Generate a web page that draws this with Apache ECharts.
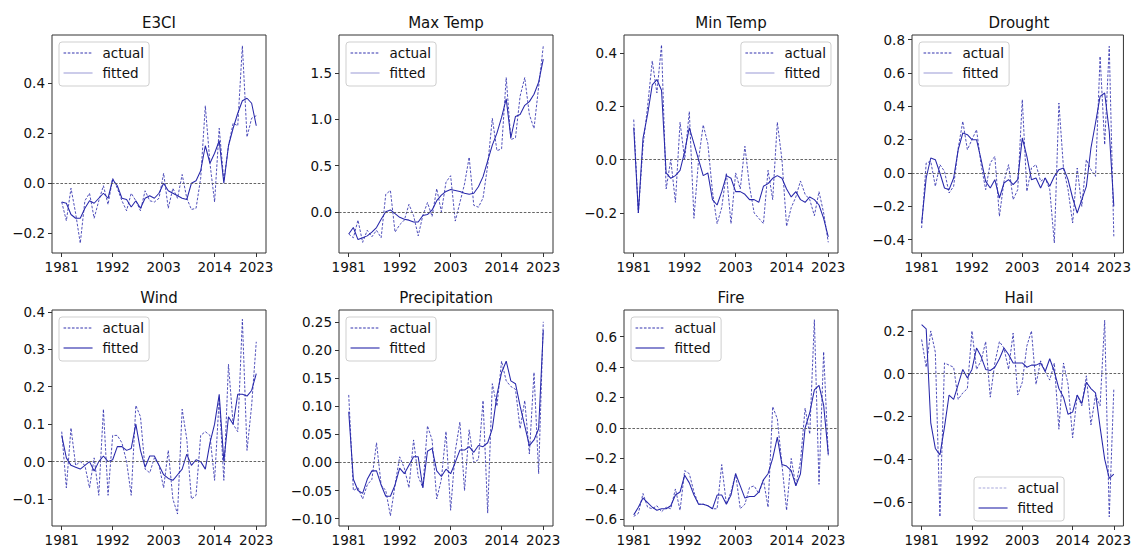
<!DOCTYPE html>
<html><head><meta charset="utf-8">
<script src="https://cdn.jsdelivr.net/npm/echarts@6/dist/echarts.min.js"></script>
<style>html,body{margin:0;padding:0;background:#fff}#c{width:1134px;height:547px}</style>
</head><body><div id="c"></div>
<script>
const years = [1981,1982,1983,1984,1985,1986,1987,1988,1989,1990,1991,1992,1993,1994,1995,1996,1997,1998,1999,2000,2001,2002,2003,2004,2005,2006,2007,2008,2009,2010,2011,2012,2013,2014,2015,2016,2017,2018,2019,2020,2021,2022,2023];
const xTicks = [1981,1992,2003,2014,2023];
const xLim = [1978.9, 2025.1];
const titles = ['E3CI','Max Temp','Min Temp','Drought','Wind','Precipitation','Fire','Hail'];

const e3ciActual = [-0.075,-0.15,-0.02,-0.12,-0.24,-0.07,-0.04,-0.14,-0.07,-0.01,-0.085,0.02,-0.02,-0.07,-0.11,-0.04,-0.07,-0.11,-0.03,-0.07,-0.075,-0.06,0.04,-0.10,-0.02,-0.06,0.035,-0.06,-0.105,-0.10,0.02,0.31,0.08,-0.075,0.22,0.01,0.15,0.24,0.23,0.55,0.185,0.26,0.27];
const e3ciFitted = [-0.075,-0.08,-0.125,-0.14,-0.14,-0.10,-0.07,-0.08,-0.06,-0.04,-0.06,0.015,-0.01,-0.06,-0.065,-0.095,-0.07,-0.10,-0.06,-0.05,-0.06,-0.04,0.0,-0.03,-0.04,-0.05,-0.06,-0.065,0.0,0.01,0.05,0.15,0.08,0.12,0.17,0.0,0.15,0.22,0.28,0.33,0.34,0.32,0.23];

const maxTempActual = [-0.24,-0.28,-0.09,-0.33,-0.2,-0.27,-0.2,-0.28,0.19,0.23,-0.22,-0.14,-0.09,0.08,-0.04,-0.26,-0.04,0.1,-0.05,0.25,0.0,0.32,0.39,-0.1,0.1,0.3,0.59,0.07,0.05,0.15,0.5,1.01,0.66,0.68,1.45,0.78,0.8,1.25,1.45,1.05,0.9,1.35,1.79];
const maxTempFitted = [-0.24,-0.17,-0.3,-0.28,-0.26,-0.22,-0.17,-0.08,0.0,0.02,-0.02,-0.06,-0.08,-0.09,-0.11,-0.11,-0.04,-0.03,0.02,0.12,0.18,0.22,0.24,0.23,0.22,0.2,0.19,0.2,0.27,0.38,0.55,0.72,0.85,1.02,1.22,0.8,1.03,1.05,1.15,1.19,1.27,1.4,1.65];

const minTempActual = [0.15,-0.2,0.05,0.2,0.37,0.25,0.43,-0.11,0.0,-0.16,0.14,0.0,0.18,-0.22,0.0,0.13,0.06,-0.12,-0.24,-0.18,-0.05,-0.24,-0.05,-0.11,0.05,-0.1,-0.2,-0.22,-0.24,-0.04,-0.15,0.14,0.0,-0.25,-0.18,-0.14,-0.08,-0.13,-0.15,-0.21,-0.12,-0.2,-0.31];
const minTempFitted = [0.12,-0.2,0.08,0.17,0.28,0.3,0.26,-0.05,-0.07,-0.06,-0.04,0.03,0.12,0.06,0.0,-0.06,-0.05,-0.15,-0.17,-0.12,-0.06,-0.07,-0.12,-0.12,-0.13,-0.15,-0.15,-0.16,-0.1,-0.09,-0.07,-0.06,-0.07,-0.11,-0.14,-0.12,-0.15,-0.16,-0.14,-0.15,-0.17,-0.22,-0.29];

const droughtActual = [-0.33,0.06,0.07,-0.08,0.05,0.01,-0.12,-0.08,0.15,0.31,0.14,0.2,0.26,0.05,-0.1,0.06,0.1,-0.26,-0.05,0.05,-0.16,-0.1,0.44,-0.11,0.03,0.05,-0.05,-0.03,-0.1,-0.42,0.42,0.03,-0.1,-0.3,0.03,-0.2,0.08,0.02,-0.02,0.7,0.17,0.76,-0.38];
const droughtFitted = [-0.3,-0.03,0.09,0.08,0.0,-0.09,-0.1,-0.03,0.14,0.24,0.23,0.2,0.2,0.08,-0.05,-0.09,-0.04,-0.15,-0.06,-0.04,-0.07,-0.04,0.21,0.1,-0.04,-0.03,-0.09,-0.03,-0.08,-0.02,0.02,0.03,-0.04,-0.15,-0.24,-0.16,-0.08,0.15,0.3,0.46,0.48,0.25,-0.2];

const windActual = [0.08,-0.07,0.09,-0.01,0.0,-0.01,-0.07,0.01,-0.09,0.14,-0.09,0.07,0.07,0.05,0.0,-0.09,0.15,0.12,-0.02,-0.03,0.01,-0.01,-0.07,0.03,-0.1,-0.14,0.14,0.06,-0.1,-0.09,0.07,0.08,0.07,-0.05,0.17,-0.05,0.26,0.1,0.08,0.38,0.03,0.15,0.32];
const windFitted = [0.07,0.01,-0.01,-0.015,-0.02,-0.01,0.0,-0.025,0.0,0.015,0.0,0.005,0.04,0.04,0.03,0.035,0.1,0.03,-0.015,0.015,0.015,-0.01,-0.035,-0.045,-0.05,-0.035,-0.02,0.02,-0.01,0.005,0.0,-0.02,0.05,0.1,0.18,0.0,0.12,0.1,0.18,0.18,0.175,0.19,0.235];

const precipActual = [0.12,-0.05,-0.045,-0.065,-0.04,-0.03,0.035,-0.04,-0.05,-0.095,-0.04,0.01,-0.01,-0.045,0.04,-0.025,-0.045,0.065,0.04,-0.065,-0.03,0.055,-0.085,0.02,0.072,-0.05,0.058,0.0,0.005,0.11,-0.09,0.14,0.1,0.18,0.145,0.135,0.13,0.06,0.11,0.015,0.16,-0.02,0.25];
const precipFitted = [0.09,-0.03,-0.05,-0.055,-0.03,-0.015,-0.015,-0.04,-0.06,-0.06,-0.04,-0.01,-0.02,-0.005,0.01,0.01,-0.045,0.02,0.025,-0.015,-0.025,-0.012,-0.02,0.0,0.022,0.022,0.028,0.018,0.03,0.028,0.035,0.06,0.12,0.16,0.18,0.145,0.14,0.1,0.065,0.03,0.04,0.06,0.235];

const fireActual = [-0.58,-0.56,-0.43,-0.52,-0.53,-0.51,-0.55,-0.52,-0.53,-0.4,-0.54,-0.28,-0.3,-0.42,-0.5,-0.5,-0.51,-0.53,-0.53,-0.24,-0.5,-0.42,-0.3,-0.53,-0.5,-0.39,-0.38,-0.43,-0.34,-0.52,0.14,0.06,-0.24,-0.54,-0.2,-0.38,-0.22,0.13,-0.04,0.71,-0.37,0.5,-0.18];
const fireFitted = [-0.57,-0.52,-0.46,-0.49,-0.52,-0.54,-0.53,-0.53,-0.51,-0.44,-0.42,-0.31,-0.36,-0.44,-0.5,-0.5,-0.51,-0.53,-0.44,-0.44,-0.5,-0.44,-0.3,-0.38,-0.46,-0.45,-0.45,-0.42,-0.34,-0.3,-0.2,-0.06,-0.24,-0.25,-0.28,-0.38,-0.3,0.0,0.1,0.25,0.28,0.15,-0.17];

const hailActual = [0.16,0.03,0.2,0.1,-0.67,0.05,0.04,0.03,-0.12,-0.09,-0.07,0.2,0.02,0.06,0.15,-0.11,0.05,0.15,0.12,0.02,0.19,-0.1,-0.04,0.13,0.2,-0.05,0.06,0.01,-0.03,0.05,-0.26,0.05,-0.05,-0.3,-0.1,-0.15,-0.01,-0.24,-0.1,-0.15,0.25,-0.67,-0.07];
const hailFitted = [0.23,0.21,-0.23,-0.35,-0.38,-0.25,-0.1,-0.12,-0.05,0.02,-0.02,0.02,0.12,0.08,0.02,0.015,0.03,0.07,0.12,0.09,0.05,0.05,0.05,0.03,0.04,0.04,0.05,0.01,0.07,0.01,-0.07,-0.11,-0.19,-0.18,-0.1,-0.14,-0.04,-0.07,-0.09,-0.25,-0.4,-0.49,-0.47];

const yTicksE3ci = [-0.2,0,0.2,0.4];
const yTicksMaxTemp = [0,0.5,1.0,1.5];
const yTicksMinTemp = [-0.2,0,0.2,0.4];
const yTicksDrought = [-0.4,-0.2,0,0.2,0.4,0.6,0.8];
const yTicksWind = [-0.1,0,0.1,0.2,0.3,0.4];
const yTicksPrecip = [-0.10,-0.05,0,0.05,0.10,0.15,0.20,0.25];
const yTicksFire = [-0.6,-0.4,-0.2,0,0.2,0.4,0.6];
const yTicksHail = [-0.6,-0.4,-0.2,0,0.2];

const yLimE3ci = [-0.279, 0.593];
const yLimMaxTemp = [-0.445, 1.91];
const yLimMinTemp = [-0.35, 0.467];
const yLimDrought = [-0.48, 0.828];
const yLimWind = [-0.172, 0.405];
const yLimPrecip = [-0.113, 0.271];
const yLimFire = [-0.643, 0.774];
const yLimHail = [-0.713, 0.298];

const panels = [
  {a:e3ciActual, f:e3ciFitted, t:yTicksE3ci, d:1, l:yLimE3ci},
  {a:maxTempActual, f:maxTempFitted, t:yTicksMaxTemp, d:1, l:yLimMaxTemp},
  {a:minTempActual, f:minTempFitted, t:yTicksMinTemp, d:1, l:yLimMinTemp},
  {a:droughtActual, f:droughtFitted, t:yTicksDrought, d:1, l:yLimDrought},
  {a:windActual, f:windFitted, t:yTicksWind, d:1, l:yLimWind},
  {a:precipActual, f:precipFitted, t:yTicksPrecip, d:2, l:yLimPrecip},
  {a:fireActual, f:fireFitted, t:yTicksFire, d:1, l:yLimFire},
  {a:hailActual, f:hailFitted, t:yTicksHail, d:1, l:yLimHail}
];

const FONT = 'DejaVu Sans';
const LINE = '#2727aa';
const DASH = [2.6, 1.6];
const pos = [[52,35],[339,35],[624,35],[912,35],[52,310],[339,310],[624,310],[912,310]];
const W = 214, H = 218;

const grid = [], xAxis = [], yAxis = [], series = [], graphic = [], legend = [];
const hiddenSymbol = {opacity: 0, color: 'rgba(0,0,0,0)', borderWidth: 0, borderColor: 'rgba(0,0,0,0)'};
panels.forEach((p, i) => {
  const [gx, gy] = pos[i];
  grid.push({left: gx, top: gy, width: W, height: H, show: true, borderColor: '#333', borderWidth: 1, backgroundColor: 'transparent'});
  xAxis.push({
    type: 'value', gridIndex: i, min: xLim[0], max: xLim[1],
    axisLine: {show: false, onZero: false},
    splitLine: {show: false},
    axisTick: {show: true, length: 4, customValues: xTicks, lineStyle: {color: '#333', width: 1}},
    axisLabel: {customValues: xTicks, margin: 7, fontSize: 13.5, fontFamily: FONT, color: '#111', formatter: v => String(v)}
  });
  yAxis.push({
    type: 'value', gridIndex: i, min: p.l[0], max: p.l[1],
    axisLine: {show: false, onZero: false},
    splitLine: {show: false},
    axisTick: {show: true, length: 4, customValues: p.t, lineStyle: {color: '#333', width: 1}},
    axisLabel: {customValues: p.t, margin: 7, fontSize: 13.5, fontFamily: FONT, color: '#111',
      formatter: v => (v < -1e-9 ? '\u2212' : '') + Math.abs(v).toFixed(p.d)}
  });
  series.push({
    name: 'actual', type: 'line', xAxisIndex: i, yAxisIndex: i, symbol: 'none', animation: false,
    lineStyle: {color: LINE, width: 0.85, type: DASH, opacity: 0.95}, itemStyle: {color: LINE},
    data: years.map((y, k) => [y, p.a[k]]),
    markLine: {silent: true, symbol: ['none', 'none'], animation: false, label: {show: false},
      lineStyle: {color: '#555', width: 0.9, type: [2.6, 1.6]}, data: [{yAxis: 0}]}
  });
  series.push({
    name: 'fitted', type: 'line', xAxisIndex: i, yAxisIndex: i, symbol: 'none', animation: false,
    lineStyle: {color: LINE, width: 1.05, type: 'solid'}, itemStyle: {color: LINE},
    data: years.map((y, k) => [y, p.f[k]])
  });
  graphic.push({type: 'text', x: gx + W / 2, y: gy - 12, silent: true,
    style: {text: titles[i], fill: '#111', font: '15px "DejaVu Sans"', textAlign: 'center', textVerticalAlign: 'middle'}});

  const topRow = i < 4;
  const lightFitted = topRow;
  const lightActual = i === 7;
  const lg = {
    orient: 'vertical', selectedMode: false, itemWidth: 29, itemHeight: 14, itemGap: 6,
    padding: [4, 5, 6, 4], borderColor: '#cfcfcf', borderWidth: 1, borderRadius: 3,
    backgroundColor: 'rgba(255,255,255,0.85)',
    itemStyle: hiddenSymbol,
    textStyle: {fontSize: 13.5, fontFamily: FONT, color: '#111', padding: [0, 0, 0, 5]},
    data: [
      {name: 'actual', itemStyle: hiddenSymbol, lineStyle: {color: lightActual ? '#a3a3d9' : LINE, width: 1, type: DASH}},
      {name: 'fitted', itemStyle: hiddenSymbol, lineStyle: {color: lightFitted ? '#a3a3d9' : LINE, width: 1.1, type: 'solid'}}
    ]
  };
  if (i === 2) { lg.right = 1134 - (gx + W - 7); lg.top = gy + 7; }
  else if (i === 7) { lg.left = gx + 62; lg.top = gy + H - 7 - 44; }
  else { lg.left = gx + 7; lg.top = gy + 7; }
  legend.push(lg);
});

const chart = echarts.init(document.getElementById('c'), null, {renderer: 'svg'});
chart.setOption({animation: false, backgroundColor: '#fff', grid, xAxis, yAxis, series, legend, graphic});
</script></body></html>
